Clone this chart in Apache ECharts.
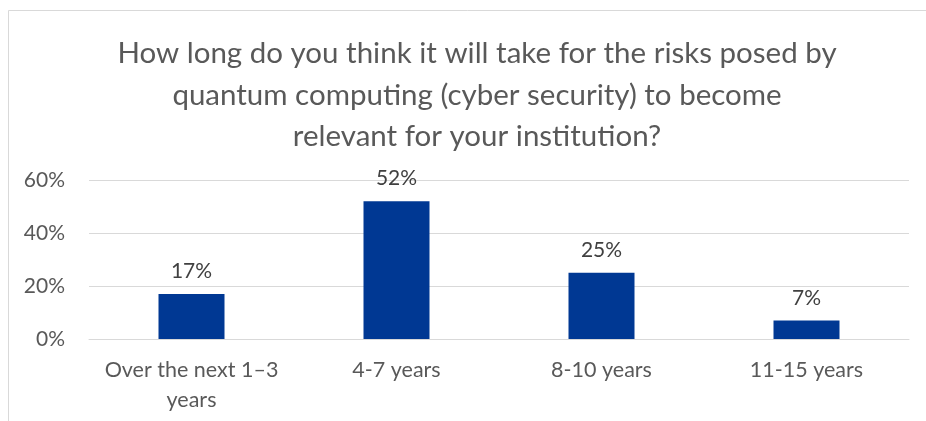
<!DOCTYPE html>
<html><head><meta charset="utf-8">
<script src="https://cdn.jsdelivr.net/npm/echarts@6/dist/echarts.min.js"></script>
<style>html,body{margin:0;padding:0;background:#fff}#c{width:926px;height:421px}</style>
</head><body><div id="c"></div>
<script>
const titleText = "How long do you think it will take for the risks posed by\nquantum computing (cyber security) to become\nrelevant for your institution?";
const categories = ["Over the next 1–3\nyears", "4-7 years", "8-10 years", "11-15 years"];
const values = [17, 52, 25, 7];
const yTicks = [0, 20, 40, 60];
const font = "Lato, 'Open Sans', sans-serif";
const chart = echarts.init(document.getElementById('c'));
chart.setOption({
  animation: false,
  backgroundColor: '#fff',
  graphic: [{type:'rect', shape:{x:8.5,y:10.5,width:940,height:440}, style:{fill:'none', stroke:'#d9d9d9', lineWidth:1}, silent:true}],
  title: {text: titleText, left: 472, textAlign: 'center', top: 28,
    textStyle: {fontFamily: font, fontSize: 29.5, fontWeight: 'normal', color: '#595959', lineHeight: 41.5}},
  grid: {left: 89, right: 17, top: 180, bottom: 82},
  xAxis: {type: 'category', data: categories,
    axisLine: {lineStyle: {color: '#d9d9d9'}}, axisTick: {show: false},
    axisLabel: {fontFamily: font, fontSize: 21.5, color: '#595959', margin: 16, lineHeight: 30, interval: 0}},
  yAxis: {type: 'value', min: yTicks[0], max: yTicks[yTicks.length-1], interval: 20,
    axisLine: {show: false}, axisTick: {show: false},
    splitLine: {lineStyle: {color: '#d9d9d9'}},
    axisLabel: {fontFamily: font, fontSize: 21, color: '#595959', margin: 24, formatter: v => v + '%'}},
  series: [{type: 'bar', data: values, barWidth: 66,
    itemStyle: {color: '#003893'},
    label: {show: true, position: 'top', distance: 12, formatter: p => p.value + '%',
      fontFamily: font, fontSize: 21, color: '#404040'}}]
});
</script></body></html>
